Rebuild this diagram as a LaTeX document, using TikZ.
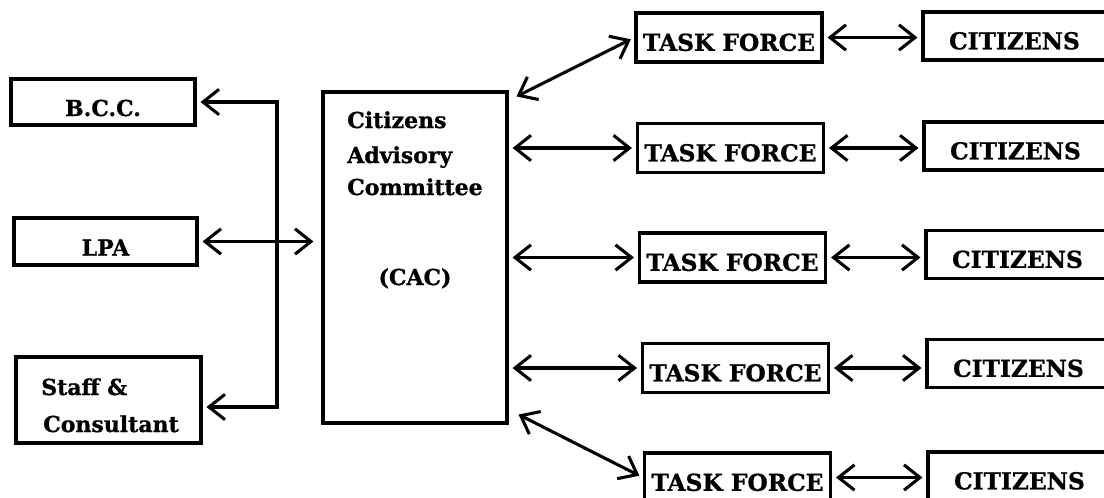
\documentclass[tikz,border=0pt]{standalone}
\usepackage{fontspec}
\setmainfont{DejaVu Serif}[BoldFeatures={FakeBold=0.9}]
\usetikzlibrary{arrows.meta,calc}
\begin{document}
\begin{tikzpicture}[x=0.75pt,y=-0.75pt,
  box/.style={draw, line width=2.3pt, rectangle, inner sep=0pt, font=\bfseries\fontsize{17.5}{20}\selectfont, text height=20pt, text depth=0pt},
  lbox/.style={box, font=\bfseries\fontsize{16.5}{20}\selectfont, text height=21pt},
  lbl/.style={font=\bfseries\fontsize{16.5}{20}\selectfont, inner sep=0pt},
  tfbox/.style={box, minimum width=139.5pt, minimum height=36.75pt},
  citbox/.style={box, minimum width=137.25pt, minimum height=36pt},
  link/.style={line width=2.3pt, {Straight Barb[length=12pt,width=19pt]}-{Straight Barb[length=12pt,width=19pt]}, shorten <=3pt, shorten >=3pt},
]
\useasboundingbox (0,0) rectangle (1104,497);
\clip (0,0) rectangle (1104,497);

% left column
\node[lbox, minimum width=138pt, minimum height=34.5pt] (bcc) at (103,102) {B.C.C.};
\node[lbox, minimum width=137.25pt, minimum height=35.25pt] (lpa) at (105.5,241.5) {LPA};
\node[lbox, minimum width=138.75pt, minimum height=64.5pt] (staff) at (108.5,400) {};
\node[lbl, anchor=base west] (staff1) at (41,395) {Staff \&};
\node[lbl, anchor=base west] (staff2) at (43,432) {Consultant};

% central committee
\node[draw, line width=2.3pt, minimum width=138pt, minimum height=248.25pt, inner sep=0pt] (cac) at (415,257.5) {};
\node[lbl, anchor=base west] (cac1) at (347,128) {Citizens};
\node[lbl, anchor=base west] (cac2) at (347,163) {Advisory};
\node[lbl, anchor=base west] (cac3) at (347,195) {Committee};
\node[lbl, anchor=base] (cac4) at (415,285) {(CAC)};

% task forces
\node[tfbox] (tf1) at (729,37.5) {TASK FORCE};
\node[tfbox] (tf2) at (730.5,148) {TASK FORCE};
\node[tfbox] (tf3) at (732.5,257.5) {TASK FORCE};
\node[tfbox] (tf4) at (735.5,368) {TASK FORCE};
\node[tfbox] (tf5) at (737.5,477.5) {TASK FORCE};

% citizens
\node[citbox] (cit1) at (1014.5,36) {CITIZENS};
\node[citbox] (cit2) at (1015.5,146) {CITIZENS};
\node[citbox] (cit3) at (1017.5,254.5) {CITIZENS};
\node[citbox] (cit4) at (1018.5,363.5) {CITIZENS};
\node[citbox] (cit5) at (1019.5,476) {CITIZENS};

% left connectors
\coordinate (bus) at (277,0);
\coordinate (sa) at ($(staff.east)+(0,7)$);
\draw[link] (bcc.east) -| (bus |- sa) -- (sa);
\draw[link, shorten >=6pt] (lpa.east) -- (cac.west |- lpa.east);

% committee to task forces
\draw[link, shorten <=0pt] ($(cac.north east)+(8,6)$) -- (tf1.west);
\draw[link] (cac.east |- tf2.west) -- (tf2.west);
\draw[link] (cac.east |- tf3.west) -- (tf3.west);
\draw[link] (cac.east |- tf4.west) -- (tf4.west);
\draw[link, shorten <=0pt] ($(cac.south east)+(10,-10)$) -- (tf5.west);

% task forces to citizens
\draw[link] (tf1.east) -- (tf1.east -| cit1.west);
\draw[link] (tf2.east) -- (tf2.east -| cit2.west);
\draw[link] (tf3.east) -- (tf3.east -| cit3.west);
\draw[link] (tf4.east) -- (tf4.east -| cit4.west);
\draw[link] (tf5.east) -- (tf5.east -| cit5.west);
\end{tikzpicture}
\end{document}
